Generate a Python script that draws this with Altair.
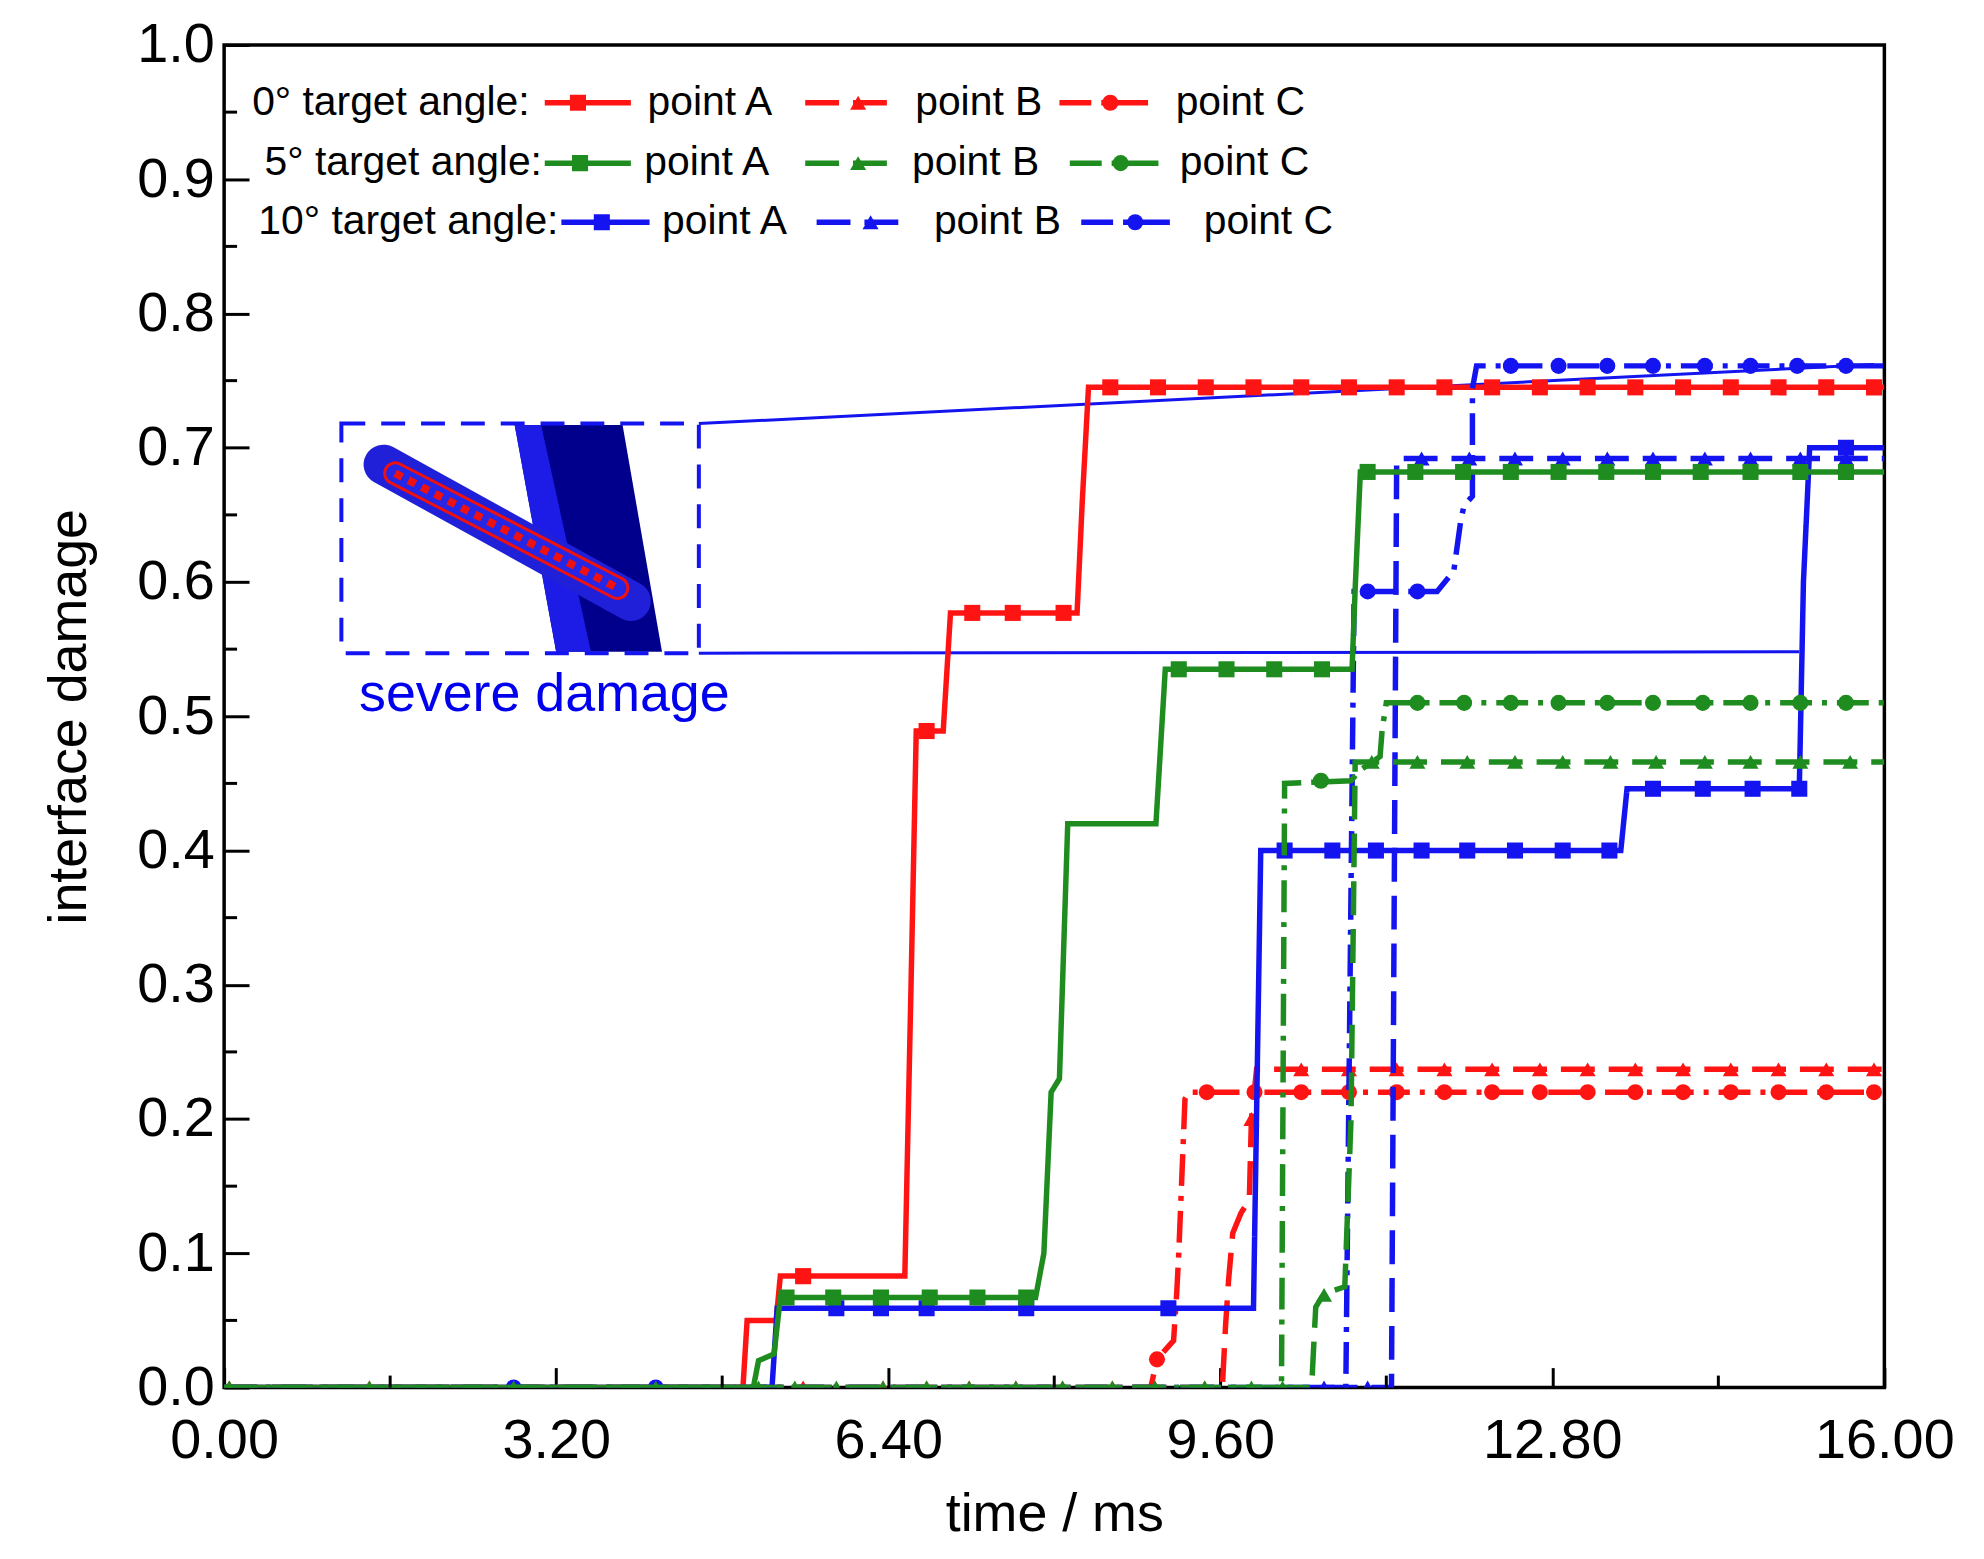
import altair as alt
import pandas as pd

FONT = "Liberation Sans, Arial, sans-serif"
RED, GREEN, BLUE = "#ff1414", "#1e8c1e", "#1414f0"
W, H = 1667, 1348

# ---- curves: time (ms) / interface damage ----
# 0 deg target angle
red_A_t = [0, 5.0, 5.04, 5.32, 5.36, 6.56, 6.62, 6.67, 6.93, 7.0, 8.22, 8.27, 8.33, 16]
red_A_y = [0, 0, 0.05, 0.05, 0.083, 0.083, 0.30, 0.489, 0.489, 0.577, 0.577, 0.66, 0.745, 0.745]
red_B_t = [0, 9.62, 9.65, 9.68, 9.72, 9.8, 9.88, 9.9, 9.95, 16]
red_B_y = [0, 0, 0.045, 0.08, 0.115, 0.13, 0.14, 0.2, 0.237, 0.237]
red_C_t = [0, 8.93, 8.99, 9.15, 9.18, 9.2, 9.26, 9.3, 16]
red_C_y = [0, 0, 0.021, 0.035, 0.07, 0.1, 0.215, 0.22, 0.22]
# 5 deg target angle
green_A_t = [0, 5.1, 5.15, 5.3, 5.36, 7.82, 7.9, 7.97, 8.05, 8.13, 8.98, 9.07, 10.87, 10.9, 10.95, 16]
green_A_y = [0, 0, 0.02, 0.025, 0.067, 0.067, 0.1, 0.22, 0.23, 0.42, 0.42, 0.535, 0.535, 0.595, 0.682, 0.682]
green_B_t = [0, 10.48, 10.52, 10.6, 10.8, 10.86, 10.9, 16]
green_B_y = [0, 0, 0.06, 0.07, 0.075, 0.2, 0.466, 0.466]
green_C_t = [0, 10.19, 10.22, 10.86, 10.95, 11.14, 11.16, 11.2, 16]
green_C_y = [0, 0, 0.45, 0.452, 0.46, 0.47, 0.49, 0.51, 0.51]
# 10 deg target angle
blue_A_t = [0, 5.28, 5.33, 9.92, 9.99, 13.46, 13.52, 15.18, 15.22, 15.28, 16]
blue_A_y = [0, 0, 0.059, 0.059, 0.40, 0.40, 0.446, 0.446, 0.6, 0.70, 0.70]
blue_B_t = [0, 11.25, 11.3, 16]
blue_B_y = [0, 0, 0.692, 0.692]
blue_C_t = [0, 10.81, 10.89, 11.69, 11.85, 11.92, 11.95, 12.03, 12.03, 12.07, 16]
blue_C_y = [0, 0, 0.593, 0.593, 0.608, 0.647, 0.657, 0.664, 0.744, 0.761, 0.761]

curves = {
    ("0°", "A"): (red_A_t, red_A_y), ("0°", "B"): (red_B_t, red_B_y), ("0°", "C"): (red_C_t, red_C_y),
    ("5°", "A"): (green_A_t, green_A_y), ("5°", "B"): (green_B_t, green_B_y), ("5°", "C"): (green_C_t, green_C_y),
    ("10°", "A"): (blue_A_t, blue_A_y), ("10°", "B"): (blue_B_t, blue_B_y), ("10°", "C"): (blue_C_t, blue_C_y),
}

# markers: (damage level, [times])
plateau = [8.54, 9.0, 9.46, 9.92, 10.38, 10.84, 11.3, 11.76, 12.22, 12.68, 13.14, 13.6, 14.06, 14.52, 14.98, 15.44, 15.9]
markers = {
    ("0°", "A"): [(0.083, [5.58]), (0.489, [6.77]), (0.577, [7.21, 7.6, 8.09]), (0.745, plateau)],
    ("0°", "B"): [(0.0, [0.05, 1.4, 2.79, 4.16, 5.58, 6.35, 6.77, 7.18, 7.63, 8.08, 8.56, 8.97, 9.45]),
                  (0.2, [9.9]), (0.237, plateau[4:])],
    ("0°", "C"): [(0.021, [8.99]), (0.22, [9.47, 9.93] + plateau[4:])],
    ("5°", "A"): [(0.067, [5.42, 5.87, 6.33, 6.8, 7.26, 7.73]), (0.535, [9.2, 9.66, 10.12, 10.58]),
                  (0.682, [11.02, 11.48, 11.94, 12.4, 12.86, 13.32, 13.77, 14.23, 14.71, 15.19, 15.63])],
    ("5°", "B"): [(0.0, [0.05, 1.4, 2.79, 4.16, 5.15, 5.5, 5.9, 6.35, 6.77, 7.18, 7.63, 8.08, 8.56, 8.97, 9.45, 9.9, 10.2]),
                  (0.069, [10.6]),
                  (0.466, [11.06, 11.5, 11.98, 12.44, 12.9, 13.36, 13.8, 14.27, 14.71, 15.19, 15.67])],
    ("5°", "C"): [(0.452, [10.57]), (0.51, [11.5, 11.95, 12.4, 12.86, 13.33, 13.77, 14.25, 14.71, 15.19, 15.63])],
    ("10°", "A"): [(0.059, [5.9, 6.33, 6.77, 7.73, 9.1]),
                   (0.40, [10.22, 10.68, 11.1, 11.54, 11.98, 12.44, 12.9, 13.35]),
                   (0.446, [13.77, 14.25, 14.73, 15.18]), (0.70, [15.63])],
    ("10°", "B"): [(0.0, [10.6, 11.02]),
                   (0.692, [11.54, 12.0, 12.44, 12.9, 13.33, 13.77, 14.27, 14.71, 15.19, 15.63])],
    ("10°", "C"): [(0.0, [2.79, 4.16]), (0.593, [11.02, 11.5]),
                   (0.761, [12.4, 12.86, 13.33, 13.77, 14.27, 14.71, 15.16, 15.63])],
}

# inset (severe damage picture) in data units
box_t = [1.13, 4.575]
box_y = [0.547, 0.718]
conn_top_t = [4.575, 15.9]
conn_top_y = [0.718, 0.762]
conn_bot_t = [4.575, 15.18]
conn_bot_y = [0.547, 0.548]
plate_y = [0.717, 0.548]
plate_left = [2.80, 3.20]
plate_right = [3.84, 4.22]
plate_strip_right = [3.055, 3.535]
shell_t = [1.536, 3.92]
shell_y = [0.6875, 0.5858]
core_t = [1.648, 3.79]
core_y = [0.681, 0.5956]

# legend layout
leg_rows = ["0°", "5°", "10°"]
leg_row_y = [0.957, 0.912, 0.868]
leg_title_t = [0.27, 0.39, 0.33]
leg_title = ["0° target angle:", "5° target angle:", "10° target angle:"]
leg_sample = {"0°": [(3.09, 3.92, 3.41), (5.6, 6.52, 6.11), (8.05, 9.0, 8.54)],
              "5°": [(3.09, 3.92, 3.43), (5.6, 6.52, 6.11), (8.15, 9.1, 8.64)],
              "10°": [(3.25, 4.1, 3.64), (5.71, 6.62, 6.23), (8.26, 9.21, 8.78)]}
leg_label_t = {"0°": [4.08, 6.66, 9.17], "5°": [4.05, 6.63, 9.21], "10°": [4.22, 6.84, 9.44]}

pts = ["A", "B", "C"]
colors = {"0°": RED, "5°": GREEN, "10°": BLUE}

# ---- tables ----
line_rows, mk_rows = [], []
for (ang, p), (ts, ys) in curves.items():
    for i, (t, y) in enumerate(zip(ts, ys)):
        line_rows.append({"ang": ang, "pt": p, "key": ang + p, "t": t, "y": y, "o": i})
for (ang, p), groups in markers.items():
    for y, ts in groups:
        for t in ts:
            mk_rows.append({"ang": ang, "pt": p, "t": t, "y": y})
for r, ang in enumerate(leg_rows):
    for p, (t0, t1, tm) in zip(pts, leg_sample[ang]):
        line_rows.append({"ang": ang, "pt": p, "key": "leg" + ang + p, "t": t0, "y": leg_row_y[r], "o": 0})
        line_rows.append({"ang": ang, "pt": p, "key": "leg" + ang + p, "t": t1, "y": leg_row_y[r], "o": 1})
        mk_rows.append({"ang": ang, "pt": p, "t": tm, "y": leg_row_y[r]})
lines = pd.DataFrame(line_rows)
mks = pd.DataFrame(mk_rows)

xs = alt.Scale(domain=[0, 16], nice=False, zero=False)
ys = alt.Scale(domain=[0, 1], nice=False, zero=False)
xaxis = alt.Axis(values=[0, 3.2, 6.4, 9.6, 12.8, 16], format=".2f", title="time / ms",
                 tickSize=20, offset=-20, domain=False, grid=False, labelPadding=26,
                 labelFont=FONT, labelFontSize=56, labelColor="black", tickColor="black",
                 tickWidth=3, titleFont=FONT, titleFontSize=54, titleFontWeight="normal",
                 titleColor="black", titlePadding=20, labelFlush=False)
yaxis = alt.Axis(values=[round(0.1 * i, 1) for i in range(11)], format=".1f", title="interface damage",
                 tickSize=25, offset=-25, domain=False, grid=False, labelPadding=10,
                 labelFont=FONT, labelFontSize=56, labelColor="black", tickColor="black",
                 tickWidth=3, titleFont=FONT, titleFontSize=54, titleFontWeight="normal",
                 titleColor="black", titlePadding=40, labelFlush=False)


def X(f):
    return alt.X(f, type="quantitative", scale=xs, axis=xaxis)


def Y(f):
    return alt.Y(f, type="quantitative", scale=ys, axis=yaxis)


dash = alt.StrokeDash("pt:N", scale=alt.Scale(domain=pts, range=[[1, 0], [34, 14], [32, 10, 5, 10]]), legend=None)
shape = alt.Shape("pt:N", scale=alt.Scale(domain=pts, range=["square", "triangle-up", "circle"]), legend=None)

# minor ticks
ytick_minor = pd.DataFrame({"v": [round(0.05 + 0.1 * i, 2) for i in range(10)]})
xtick_minor = pd.DataFrame({"v": [1.6, 4.8, 8.0, 11.2, 14.4]})
yminor = alt.Chart(ytick_minor).mark_rule(color="black", strokeWidth=3).encode(
    y=Y("v"), x=alt.value(0), x2=alt.value(13))
xminor = alt.Chart(xtick_minor).mark_rule(color="black", strokeWidth=3).encode(
    x=X("v"), y=alt.value(H), y2=alt.value(H - 12))

# inset
plate = pd.DataFrame({"y": plate_y, "l": plate_left, "r": plate_right, "s": plate_strip_right})
plate_dark = alt.Chart(plate).mark_area(orient="horizontal", color="#00008c", opacity=1).encode(
    y=Y("y"), x=X("l"), x2="r")
plate_light = alt.Chart(plate).mark_area(orient="horizontal", color="#1c1ce6", opacity=1).encode(
    y=Y("y"), x=X("l"), x2="s")
shell = pd.DataFrame({"t": shell_t, "y": shell_y})
core = pd.DataFrame({"t": core_t, "y": core_y})
shell_l = alt.Chart(shell).mark_line(color="#2020d8", strokeWidth=40, strokeCap="round").encode(x=X("t"), y=Y("y"))
core_red = alt.Chart(core).mark_line(color="#ee1111", strokeWidth=24, strokeCap="round").encode(x=X("t"), y=Y("y"))
core_in = alt.Chart(core).mark_line(color="#2626e6", strokeWidth=18, strokeCap="round").encode(x=X("t"), y=Y("y"))
core_dots = alt.Chart(core).mark_line(color="#ee1111", strokeWidth=8, strokeDash=[8, 7]).encode(x=X("t"), y=Y("y"))
box = alt.Chart(pd.DataFrame({"t0": [box_t[0]], "t1": [box_t[1]], "y0": [box_y[0]], "y1": [box_y[1]]})).mark_rect(
    filled=False, color=BLUE, strokeWidth=4, strokeDash=[24, 16]).encode(x=X("t0"), x2="t1", y=Y("y0"), y2="y1")
conn = pd.DataFrame({"g": ["top", "top", "bot", "bot"], "t": conn_top_t + conn_bot_t, "y": conn_top_y + conn_bot_y})
conn_l = alt.Chart(conn).mark_line(color=BLUE, strokeWidth=3).encode(x=X("t"), y=Y("y"), detail="g:N")
severe = alt.Chart(pd.DataFrame({"t": [1.3], "y": [0.504], "s": ["severe damage"]})).mark_text(
    align="left", baseline="alphabetic", font=FONT, fontSize=54,
    color="#0000ee").encode(x=X("t"), y=Y("y"), text="s:N")

# series layers, drawn red, blue, green
series_layers = []
for ang in ["0°", "10°", "5°"]:
    c = colors[ang]
    ln = alt.Chart(lines[lines.ang == ang]).mark_line(color=c, strokeWidth=5.5, clip=True).encode(
        x=X("t"), y=Y("y"), order="o:Q", detail="key:N", strokeDash=dash)
    mk = alt.Chart(mks[mks.ang == ang]).mark_point(color=c, filled=True, opacity=1, size=260, clip=True).encode(
        x=X("t"), y=Y("y"), shape=shape)
    series_layers += [ln, mk]

# legend texts
leg_txt = pd.DataFrame(
    [{"t": leg_title_t[r], "y": leg_row_y[r], "s": leg_title[r]} for r in range(3)]
    + [{"t": tt, "y": leg_row_y[r], "s": "point " + p}
       for r, ang in enumerate(leg_rows) for p, tt in zip(pts, leg_label_t[ang])])
leg_text = alt.Chart(leg_txt).mark_text(align="left", baseline="middle", font=FONT, fontSize=41,
                                        color="black").encode(x=X("t"), y=Y("y"), text="s:N")

chart = alt.layer(
    plate_dark, plate_light, shell_l, core_red, core_in, core_dots, box, conn_l, severe,
    *series_layers, leg_text, yminor, xminor
).properties(
    width=W, height=H,
    autosize=alt.AutoSizeParams(type="none"),
    padding={"left": 217, "top": 34, "right": 92, "bottom": 169},
).configure_view(stroke="black", strokeWidth=3.5)

chart.save("out.html", embed_options={"renderer": "svg", "actions": False})
